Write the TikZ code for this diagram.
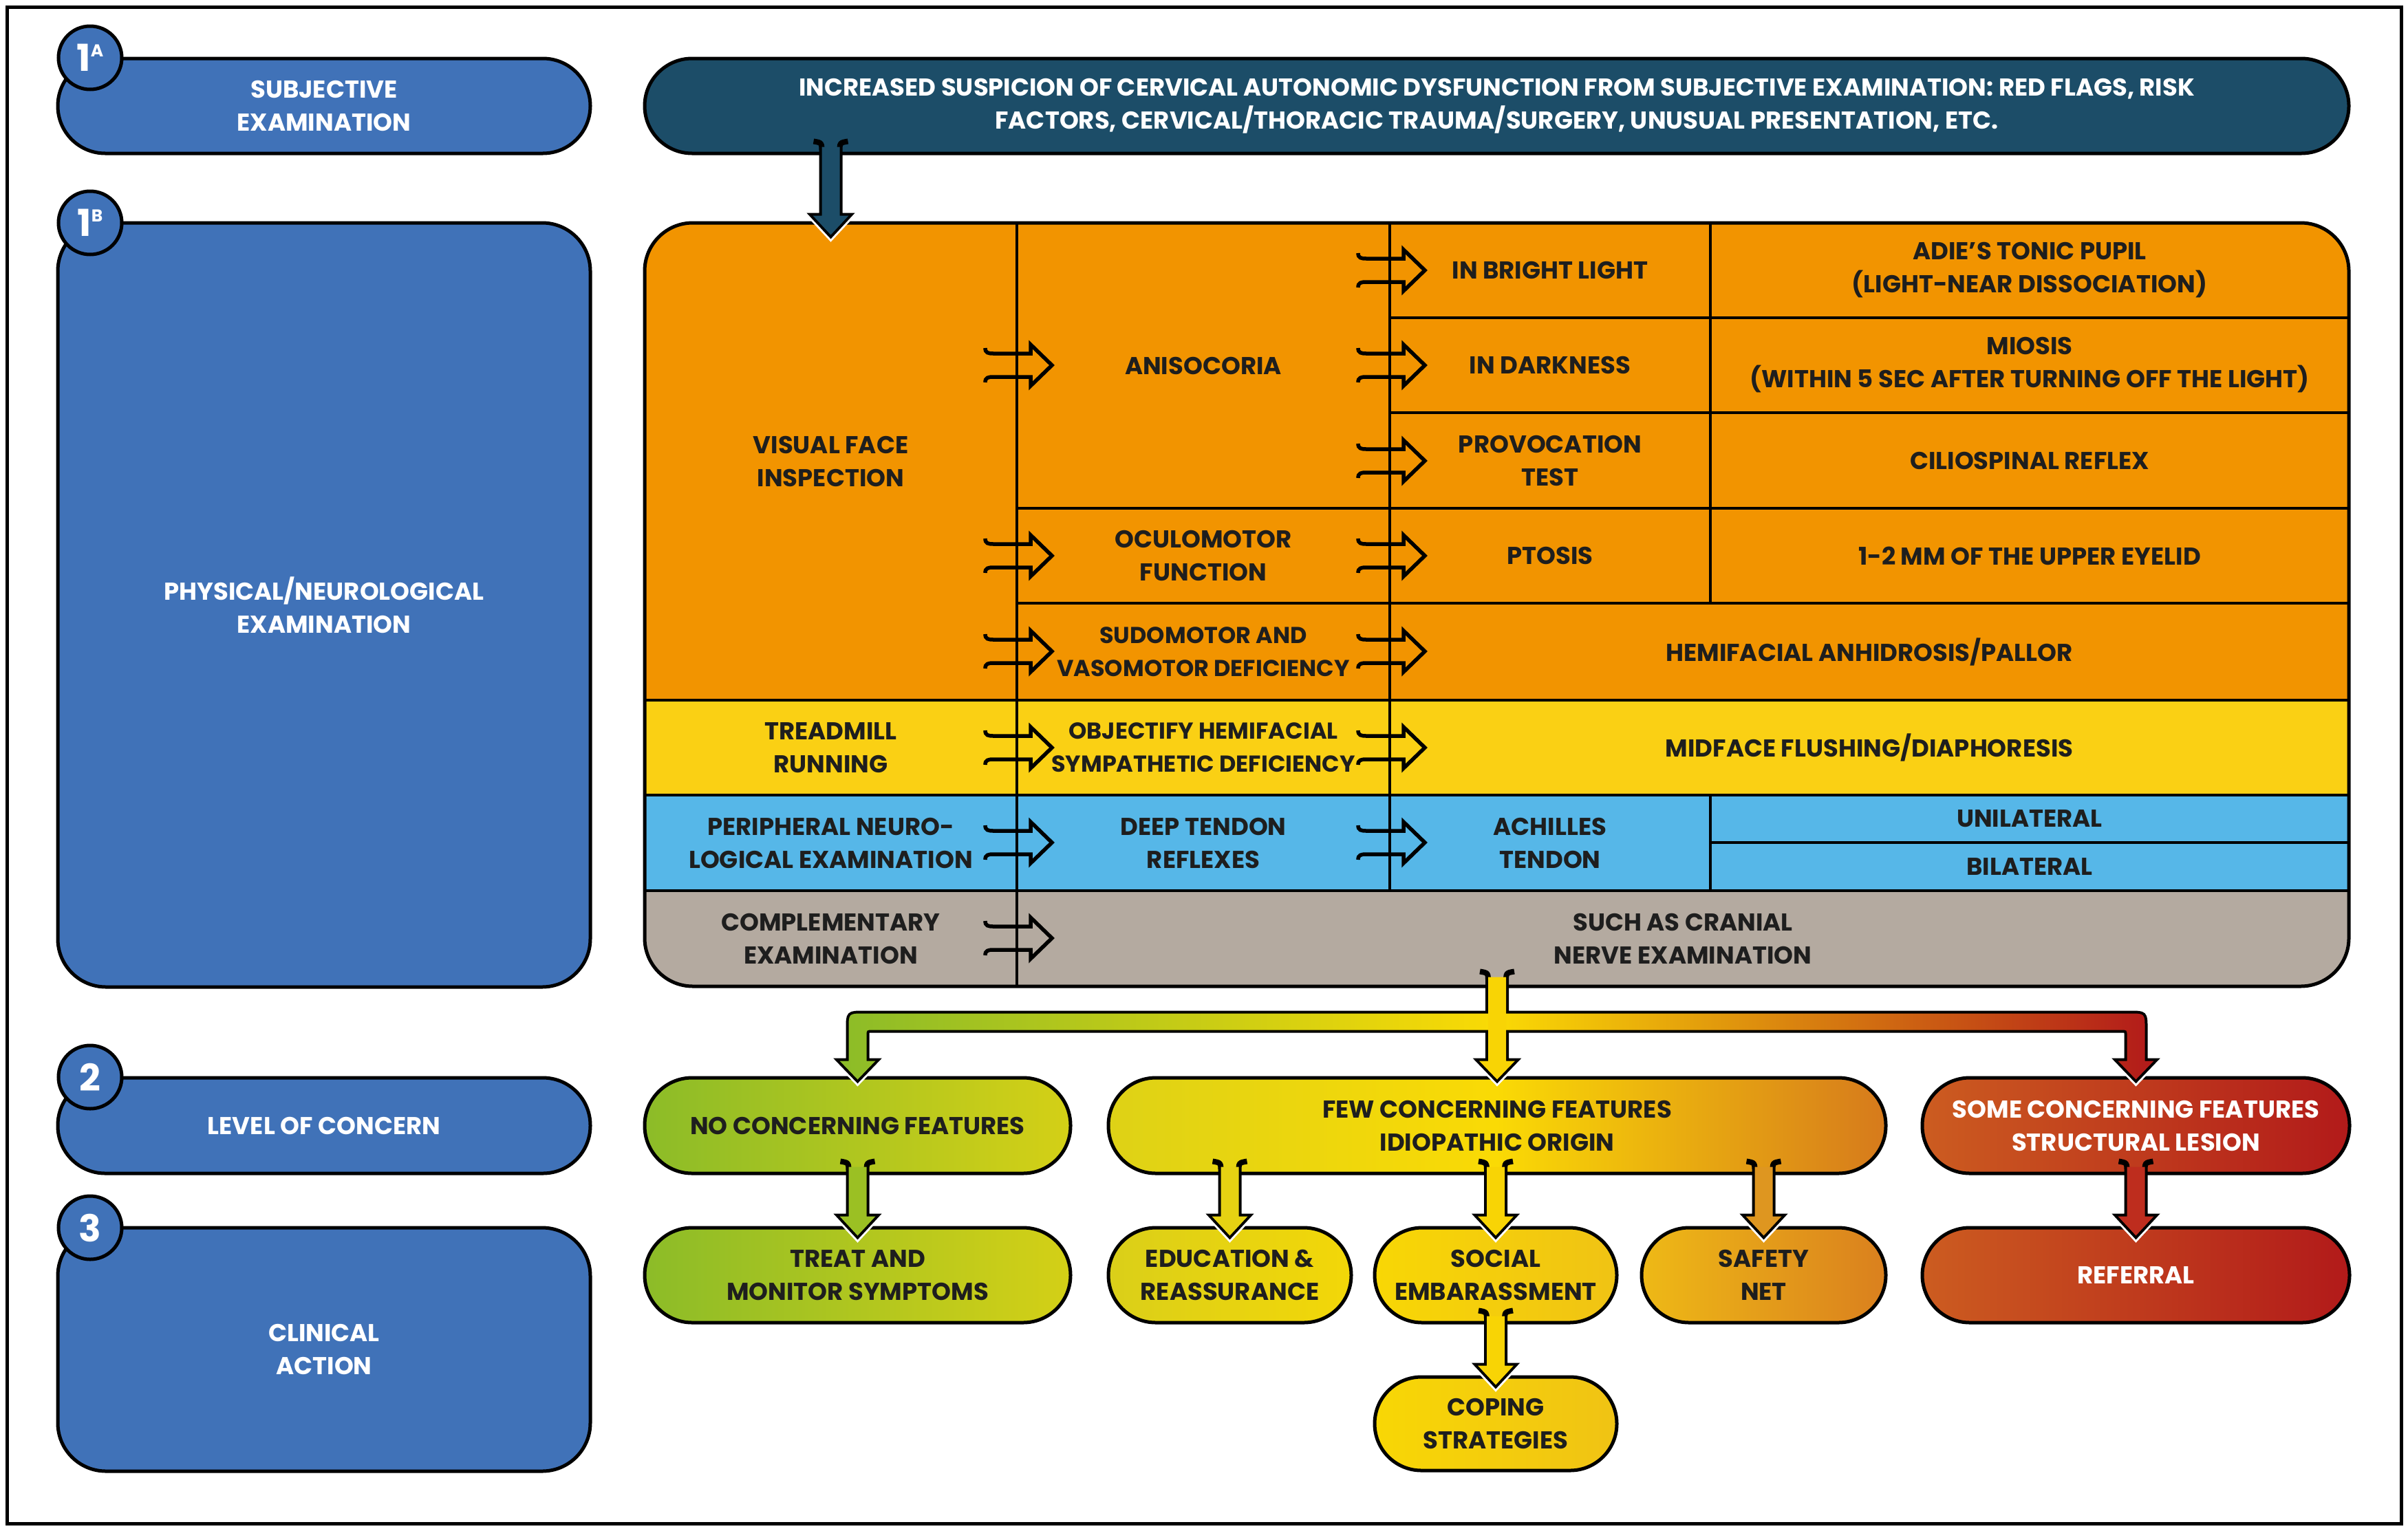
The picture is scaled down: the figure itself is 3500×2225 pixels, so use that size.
\documentclass[tikz,border=0pt]{standalone}
\usepackage{fontspec}
\setmainfont{Poppins}
\usetikzlibrary{calc}
\definecolor{blueL}{RGB}{64,114,184}
\definecolor{darkT}{RGB}{28,77,104}
\definecolor{orng}{RGB}{242,148,0}
\definecolor{yelR}{RGB}{250,208,20}
\definecolor{lblu}{RGB}{86,183,232}
\definecolor{gryR}{RGB}{180,170,160}
\definecolor{txt}{RGB}{30,30,30}
\definecolor{greenA}{RGB}{140,188,40}
\definecolor{greenB}{RGB}{212,208,22}
\definecolor{yelA}{RGB}{222,210,22}
\definecolor{yelM}{RGB}{250,218,5}
\definecolor{orA}{RGB}{214,122,28}
\definecolor{redA}{RGB}{204,92,32}
\definecolor{redB}{RGB}{178,26,26}
\definecolor{eduA}{RGB}{218,207,25}
\definecolor{eduB}{RGB}{243,215,8}
\definecolor{socA}{RGB}{248,215,5}
\definecolor{socB}{RGB}{240,195,20}
\definecolor{safA}{RGB}{238,185,22}
\definecolor{safB}{RGB}{218,128,30}
\definecolor{arGreen}{RGB}{155,192,35}
\definecolor{arEdu}{RGB}{230,210,18}
\definecolor{arYel}{RGB}{248,212,5}
\definecolor{arSaf}{RGB}{222,150,32}
\definecolor{arRed}{RGB}{190,45,30}
\newcommand\txtfont{\bfseries\fontsize{35.5}{48}\selectfont}
\newcommand\narrowfont{\bfseries\fontsize{33.5}{48}\selectfont}
\tikzset{
  lbl/.style={font=\txtfont, align=center, text=txt, inner sep=0pt},
  nlbl/.style={lbl, font=\narrowfont},
  boxbase/.style={draw=black, line width=5pt, inner sep=0pt, font=\txtfont, align=center},
  bluebox/.style={boxbase, fill=blueL, text=white, rounded corners=#1},
  pillbox/.style={boxbase, text=txt, rounded corners=#1},
  circ/.style={circle, draw=black, line width=5pt, fill=blueL, minimum size=92pt, inner sep=0pt, text=white},
  gridln/.style={line width=4.5pt, black},
  hollowarr/.style={line width=5.5pt, black, line join=miter},
}
\newcommand\harr[2]{%
  \begin{scope}[shift={(#1,#2)}]
    \draw[hollowarr] (-46,-25) .. controls (-46,-18) and (-42,-17) .. (-34,-17) -- (20,-17) -- (20,-30) -- (51,0) -- (20,30) -- (20,17) -- (-34,17) .. controls (-42,17) and (-46,18) .. (-46,25);
  \end{scope}}
% vertical block arrow: #2 source node anchor, #3 target anchor, #4 colour, #1 tip depth
\newcommand\varr[4][14]{%
  \coordinate (vT) at (#3);
  \coordinate (vS0) at (vT |- #2);
  \coordinate (vS) at ($(vS0)+(0,-18)$);
  \coordinate (vE) at ($(vT)+(0,#1)$);
  \draw[white,line width=14pt] ($(vE)+(-26,-28)$) -- (vE) -- ($(vE)+(26,-28)$);
  \draw[black,line width=8pt,line join=miter] ($(vS)+(-25,-2)$) .. controls ($(vS)+(-13,0)$) .. ($(vS)+(-13,14)$) -- ($(vE)+(-13,-28)$) -- ($(vE)+(-26,-28)$) -- (vE) -- ($(vE)+(26,-28)$) -- ($(vE)+(13,-28)$) -- ($(vS)+(13,14)$) .. controls ($(vS)+(13,0)$) .. ($(vS)+(25,-2)$);
  \fill[#4] ($(vS)+(-13,6)$) -- ($(vE)+(-13,-28)$) -- ($(vE)+(-26,-28)$) -- (vE) -- ($(vE)+(26,-28)$) -- ($(vE)+(13,-28)$) -- ($(vS)+(13,6)$) -- cycle;
}
\begin{document}
\begin{tikzpicture}[x=1pt,y=-1pt]
\useasboundingbox (0,0) rectangle (3500,2225);
\fill[white] (0,0) rectangle (3500,2225);
\draw[line width=5pt] (10,10) rectangle (3490,2215);

% left column
\node[bluebox=69pt, minimum width=774pt, minimum height=138pt] (subj) at (471,154) {SUBJECTIVE\\EXAMINATION};
\node[bluebox=70pt, minimum width=774pt, minimum height=1111pt] (phys) at (471,879.5) {PHYSICAL/NEUROLOGICAL\\EXAMINATION};
\node[bluebox=69pt, minimum width=774pt, minimum height=139pt] (level) at (471,1636.5) {LEVEL OF CONCERN};
\node[bluebox=70pt, minimum width=774pt, minimum height=354pt] (clin) at (471,1962) {CLINICAL\\ACTION};
\node[circ] (n1a) at (131,84) {\fontsize{54}{54}\selectfont\bfseries 1\raisebox{0.4em}{\fontsize{25}{25}\selectfont A}};
\node[circ] (n1b) at (131,324) {\fontsize{54}{54}\selectfont\bfseries 1\raisebox{0.4em}{\fontsize{25}{25}\selectfont B}};
\node[circ] (n2) at (131,1566) {\fontsize{54}{54}\selectfont\bfseries 2};
\node[circ] (n3) at (131,1785) {\fontsize{54}{54}\selectfont\bfseries 3};

% top dark box
\node[boxbase, fill=darkT, text=white, rounded corners=69pt, minimum width=2477pt, minimum height=138pt] (susp) at (2175.5,154) {INCREASED SUSPICION OF CERVICAL AUTONOMIC DYSFUNCTION FROM SUBJECTIVE EXAMINATION: RED FLAGS, RISK\\FACTORS, CERVICAL/THORACIC TRAUMA/SURGERY, UNUSUAL PRESENTATION, ETC.};

% table fills
\begin{scope}
  \clip[rounded corners=70pt] (937,324) rectangle (3414,1434);
  \fill[orng] (937,324) rectangle (3414,1018);
  \fill[yelR] (937,1018) rectangle (3414,1156);
  \fill[lblu] (937,1156) rectangle (3414,1295);
  \fill[gryR] (937,1295) rectangle (3414,1434);
\end{scope}
% grid lines
\draw[gridln] (1478,324) -- (1478,1434);
\draw[gridln] (2020,324) -- (2020,1295);
\draw[gridln] (2486,324) -- (2486,877);
\draw[gridln] (2486,1156) -- (2486,1295);
\draw[gridln] (2020,462) -- (3414,462);
\draw[gridln] (2020,600) -- (3414,600);
\draw[gridln] (1478,739) -- (3414,739);
\draw[gridln] (1478,877) -- (3414,877);
\draw[gridln] (937,1018) -- (3414,1018);
\draw[gridln] (937,1156) -- (3414,1156);
\draw[gridln] (937,1295) -- (3414,1295);
\draw[gridln] (2486,1225) -- (3414,1225);
\node[draw=black, line width=5pt, rounded corners=70pt, minimum width=2477pt, minimum height=1110pt, inner sep=0pt] (tbl) at (2175.5,879) {};

% table texts
\node[lbl] (vfi) at (1207.5,671) {VISUAL FACE\\INSPECTION};
\node[lbl] (tread) at (1207.5,1087) {TREADMILL\\RUNNING};
\node[lbl] (perif) at (1207.5,1225.5) {PERIPHERAL NEURO-\\LOGICAL EXAMINATION};
\node[lbl] (compl) at (1207.5,1364.5) {COMPLEMENTARY\\EXAMINATION};
\node[lbl] (anis) at (1749,531.5) {ANISOCORIA};
\node[lbl] (ocul) at (1749,808) {OCULOMOTOR\\FUNCTION};
\node[nlbl] (sudo) at (1749,947.5) {SUDOMOTOR AND\\VASOMOTOR DEFICIENCY};
\node[nlbl] (objh) at (1749,1087) {OBJECTIFY HEMIFACIAL\\SYMPATHETIC DEFICIENCY};
\node[lbl] (dtr) at (1749,1225.5) {DEEP TENDON\\REFLEXES};
\node[lbl] (ibl) at (2253,393) {IN BRIGHT LIGHT};
\node[lbl] (idk) at (2253,531) {IN DARKNESS};
\node[lbl] (prov) at (2253,669.5) {PROVOCATION\\TEST};
\node[lbl] (ptos) at (2253,808) {PTOSIS};
\node[lbl] (achl) at (2253,1225.5) {ACHILLES\\TENDON};
\node[lbl] (adie) at (2950,393) {ADIE’S TONIC PUPIL\\(LIGHT-NEAR DISSOCIATION)};
\node[lbl] (mios) at (2950,531) {MIOSIS\\(WITHIN 5 SEC AFTER TURNING OFF THE LIGHT)};
\node[lbl] (cilio) at (2950,669.5) {CILIOSPINAL REFLEX};
\node[lbl] (mm12) at (2950,808) {1-2 MM OF THE UPPER EYELID};
\node[lbl] (unil) at (2950,1190.5) {UNILATERAL};
\node[lbl] (bila) at (2950,1260) {BILATERAL};
\node[lbl] (hemi) at (2717,947.5) {HEMIFACIAL ANHIDROSIS/PALLOR};
\node[lbl] (midf) at (2717,1087) {MIDFACE FLUSHING/DIAPHORESIS};
\node[lbl] (such) at (2446,1364.5) {SUCH AS CRANIAL\\NERVE EXAMINATION};

% hollow arrows
\harr{1478}{531}
\harr{1478}{808}
\harr{1478}{947}
\harr{1478}{1087}
\harr{1478}{1225}
\harr{1478}{1364}
\harr{2020}{393}
\harr{2020}{531}
\harr{2020}{670}
\harr{2020}{808}
\harr{2020}{947}
\harr{2020}{1087}
\harr{2020}{1225}

% level of concern boxes
\node[pillbox=69pt, left color=greenA, right color=greenB, minimum width=619pt, minimum height=139pt] (no) at (1246.5,1636.5) {NO CONCERNING FEATURES};
\node[pillbox=69pt, left color=yelA, right color=orA, middle color=yelM, minimum width=1130pt, minimum height=139pt] (few) at (2176,1636.5) {FEW CONCERNING FEATURES\\IDIOPATHIC ORIGIN};
\node[pillbox=69pt, left color=redA, right color=redB, text=white, minimum width=621pt, minimum height=139pt] (some) at (3104.5,1636.5) {SOME CONCERNING FEATURES\\STRUCTURAL LESION};
% clinical action boxes
\node[pillbox=69pt, left color=greenA, right color=greenB, minimum width=619pt, minimum height=138pt] (treat) at (1246.5,1854) {TREAT AND\\MONITOR SYMPTOMS};
\node[pillbox=69pt, left color=eduA, right color=eduB, minimum width=353pt, minimum height=138pt] (edu) at (1787.5,1854) {EDUCATION \&\\REASSURANCE};
\node[pillbox=69pt, left color=socA, right color=socB, minimum width=352pt, minimum height=138pt] (soc) at (2174,1854) {SOCIAL\\EMBARASSMENT};
\node[pillbox=69pt, left color=safA, right color=safB, minimum width=355pt, minimum height=138pt] (safe) at (2563.5,1854) {SAFETY\\NET};
\node[pillbox=69pt, left color=redA, right color=redB, text=white, minimum width=621pt, minimum height=138pt] (refl) at (3104.5,1854) {REFERRAL};
\node[pillbox=68pt, left color=socA, right color=socB, minimum width=352pt, minimum height=136pt] (cope) at (2174,2070) {COPING\\STRATEGIES};

% top arrow into the table
\coordinate (tblin) at (vfi |- tbl.north);
\varr[20]{susp.south}{tblin}{darkT}

% branching connector
\coordinate (brL) at ($(no.north)+(0,5)$);
\coordinate (brC) at ($(few.north)+(0,5)$);
\coordinate (brR) at ($(some.north)+(0,5)$);
\coordinate (brS) at ($(few.north |- tbl.south)+(0,-22)$);
\foreach \t in {brL,brC,brR}
  \draw[white,line width=14pt] ($(\t)+(-26,-27)$) -- (\t) -- ($(\t)+(26,-27)$);
\draw[black,line width=8pt,line join=miter] ($(brS)+(-25,-2)$) .. controls ($(brS)+(-13,0)$) .. ($(brS)+(-13,14)$) -- ($(brC)+(-13,-27)$) -- ($(brC)+(-26,-27)$) -- (brC) -- ($(brC)+(26,-27)$) -- ($(brC)+(13,-27)$) -- ($(brS)+(13,14)$) .. controls ($(brS)+(13,0)$) .. ($(brS)+(25,-2)$);
\shade[preaction={draw=black,line width=8pt,line join=miter}, left color=greenA, right color=redB, middle color=yelM]
  ($(brL)+(-13,-27)$) -- ($(brL)+(-13,-74)$) .. controls ($(brL)+(-13,-96)$) .. ($(brL)+(9,-96)$) -- ($(brR)+(-9,-96)$) .. controls ($(brR)+(13,-96)$) .. ($(brR)+(13,-74)$) -- ($(brR)+(13,-27)$) -- ($(brR)+(26,-27)$) -- (brR) -- ($(brR)+(-26,-27)$) -- ($(brR)+(-13,-27)$) -- ($(brR)+(-13,-64)$) .. controls ($(brR)+(-13,-72)$) .. ($(brR)+(-21,-72)$) -- ($(brL)+(21,-72)$) .. controls ($(brL)+(13,-72)$) .. ($(brL)+(13,-64)$) -- ($(brL)+(13,-27)$) -- ($(brL)+(26,-27)$) -- (brL) -- ($(brL)+(-26,-27)$) -- cycle;
\fill[arYel] ($(brS)+(-13,6)$) -- ($(brC)+(-13,-27)$) -- ($(brC)+(-26,-27)$) -- (brC) -- ($(brC)+(26,-27)$) -- ($(brC)+(13,-27)$) -- ($(brS)+(13,6)$) -- cycle;

% arrows between levels
\varr{no.south}{treat.north}{arGreen}
\varr{few.south}{edu.north}{arEdu}
\varr{few.south}{soc.north}{arYel}
\varr{few.south}{safe.north}{arSaf}
\varr{soc.south}{cope.north}{arYel}
\varr{some.south}{refl.north}{arRed}
\end{tikzpicture}
\end{document}
